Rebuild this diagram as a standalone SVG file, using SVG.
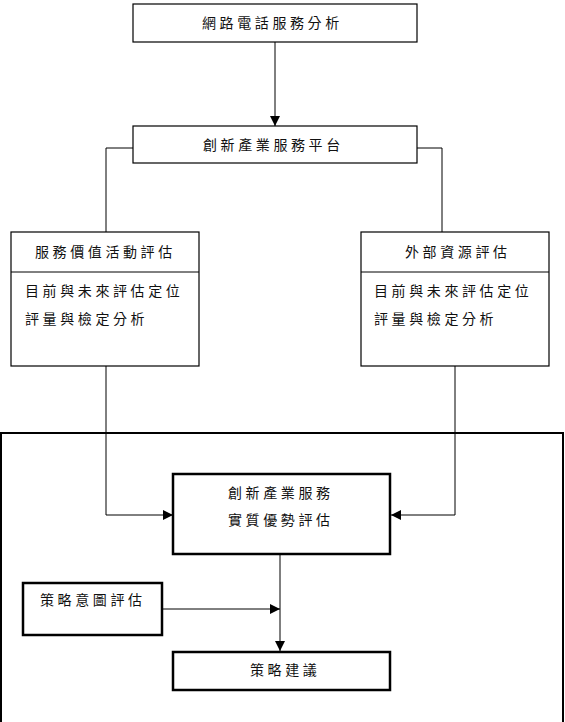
<svg xmlns="http://www.w3.org/2000/svg" width="565" height="722" viewBox="0 0 565 722">
<style>
.box{fill:#fff;stroke:#000;stroke-width:1.2}
.thick{fill:#fff;stroke:#000;stroke-width:2.5}
.ln{fill:none;stroke:#000;stroke-width:1}
.t{font-family:"Noto Sans CJK TC","Noto Sans CJK SC",sans-serif;font-size:14px;letter-spacing:3.6px;fill:#111}
</style>
<defs>
<marker id="ah" viewBox="0 0 10 10" refX="10" refY="5" markerWidth="10" markerHeight="10" markerUnits="userSpaceOnUse" orient="auto">
<path d="M0,0 L10,5 L0,10 z" fill="#000"/>
</marker>
</defs>
<rect x="1" y="433" width="562" height="300" fill="none" stroke="#000" stroke-width="2"/>
<g id="connectors">
<line class="ln" x1="275" y1="42" x2="275" y2="126" marker-end="url(#ah)"/>
<polyline class="ln" points="133,148 106,148 106,232"/>
<polyline class="ln" points="417,148 442,148 442,232"/>
<polyline class="ln" points="106,366 106,515 173,515" marker-end="url(#ah)"/>
<polyline class="ln" points="455,366 455,515 391,515" marker-end="url(#ah)"/>
<line class="ln" x1="280" y1="554" x2="280" y2="651" marker-end="url(#ah)"/>
<line class="ln" x1="162" y1="609" x2="280" y2="609" marker-end="url(#ah)"/>
</g>
<g id="n1">
<rect class="box" x="133" y="4" width="284" height="38"/>
<text class="t" x="202" y="28">網路電話服務分析</text>
</g>
<g id="n2">
<rect class="box" x="133" y="126" width="284" height="37"/>
<text class="t" x="203" y="150">創新產業服務平台</text>
</g>
<g id="n3">
<rect class="box" x="11" y="232" width="188" height="134"/>
<line class="ln" x1="11" y1="272" x2="199" y2="272" stroke-width="1.2"/>
<text class="t" x="35" y="257">服務價值活動評估</text>
<text class="t" x="25" y="296">目前與未來評估定位</text>
<text class="t" x="25" y="324">評量與檢定分析</text>
</g>
<g id="n4">
<rect class="box" x="361" y="232" width="188" height="134"/>
<line class="ln" x1="361" y1="272" x2="549" y2="272" stroke-width="1.2"/>
<text class="t" x="405" y="257">外部資源評估</text>
<text class="t" x="374" y="296">目前與未來評估定位</text>
<text class="t" x="374" y="324">評量與檢定分析</text>
</g>
<g id="n5">
<rect class="thick" x="173" y="474" width="217" height="80"/>
<text class="t" x="228" y="498">創新產業服務</text>
<text class="t" x="228" y="525">實質優勢評估</text>
</g>
<g id="n6">
<rect class="thick" x="23" y="583" width="139" height="52"/>
<text class="t" x="40" y="605">策略意圖評估</text>
</g>
<g id="n7">
<rect class="thick" x="173" y="652" width="217" height="38"/>
<text class="t" x="250" y="675">策略建議</text>
</g>
</svg>
